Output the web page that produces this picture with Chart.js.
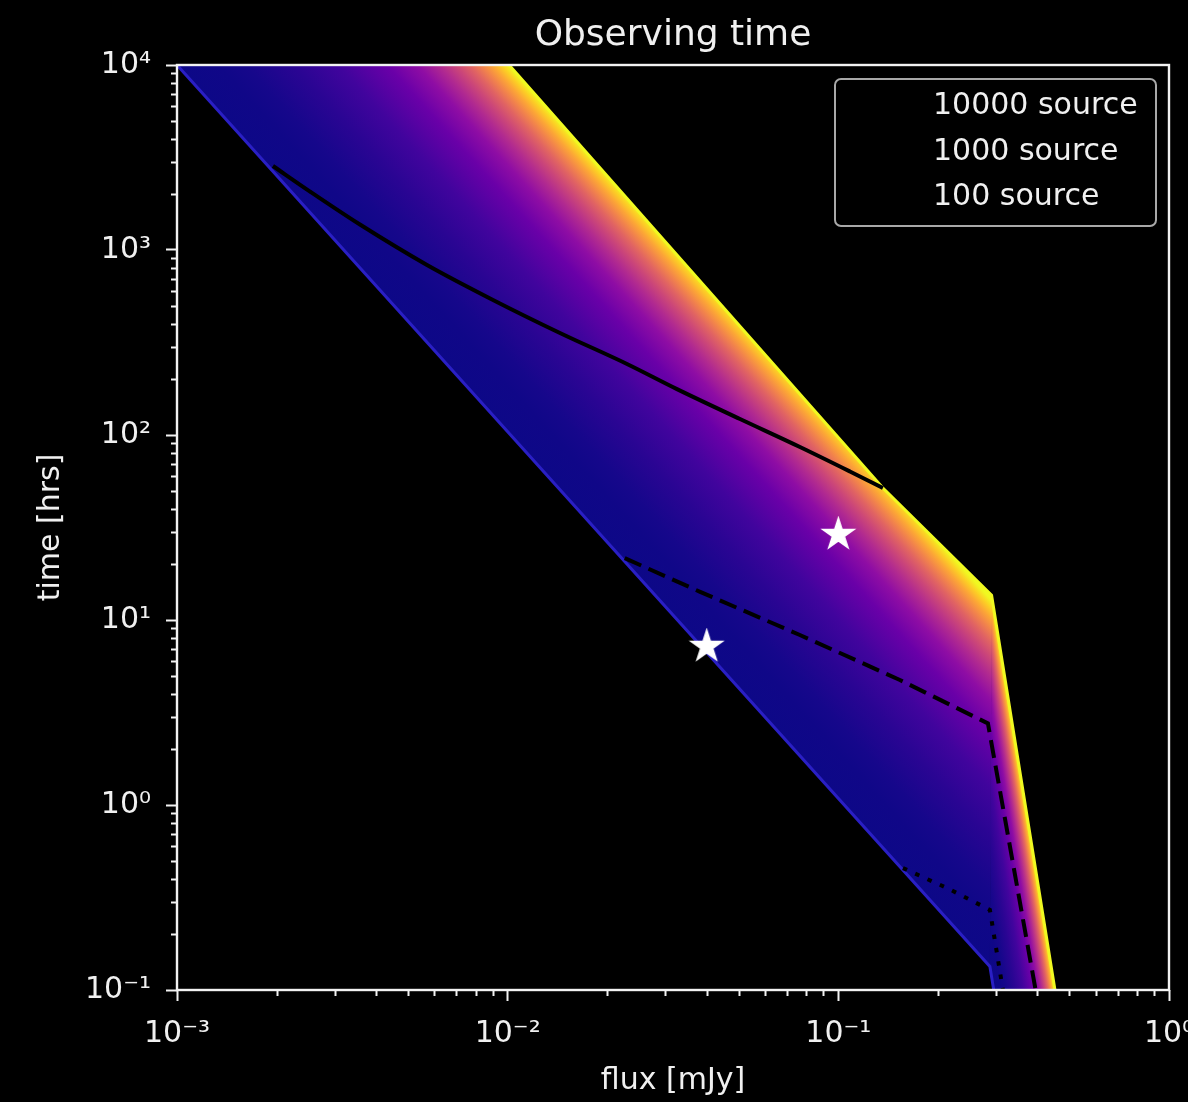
<!DOCTYPE html>
<html>

<head>
  <title>Observing time</title>
  <script src="https://cdn.jsdelivr.net/npm/chart.js@4.4.1/dist/chart.umd.min.js"></script>
  <style>
    body { margin: 0; background: #000; }
  </style>
</head>

<body>
  <canvas id="obs-chart" width="1188" height="1102"></canvas>
  <script>

    // axis decades
    var fluxTicks = [1e-3, 1e-2, 1e-1, 1e0];
    var timeTicks = [1e-1, 1e0, 1e1, 1e2, 1e3, 1e4];

    // corners of the survey fan: power-law part, then the steep cut-off
    var fanMainFlux = [0.001, 0.2873, 0.2907, 0.1364, 0.0101];
    var fanMainTime = [10000, 0.134, 13.6, 51.7, 10000];
    var fanCutFlux = [0.2873, 0.2951, 0.452, 0.2907];
    var fanCutTime = [0.134, 0.1, 0.1, 13.6];

    // source-count curves
    var src10000Flux = [0.00195, 0.002526, 0.003575, 0.005702, 0.009029, 0.01439, 0.02295, 0.03251, 0.05042, 0.07654, 0.1084, 0.1364];
    var src10000Time = [2845, 2069, 1373, 830, 537, 356, 242, 177, 122, 86.1, 63.5, 51.7];
    var src1000Flux = [0.0226, 0.0382, 0.0765, 0.1535, 0.2834, 0.395];
    var src1000Time = [21.6, 14.2, 8.3, 4.74, 2.76, 0.1];
    var src100Flux = [0.1568, 0.213, 0.2873, 0.3146];
    var src100Time = [0.456, 0.356, 0.271, 0.1];

    // highlighted targets
    var starFlux = [0.1, 0.04];
    var starTime = [29, 7.2];

    // plasma colormap, stops placed where the fan lines sit
    var plasmaStops = [
      [0.000, '#0d0887'], [0.125, '#100788'], [0.206, '#16078b'], [0.350, '#2a0593'],
      [0.486, '#41049d'], [0.633, '#6a00a8'], [0.724, '#8f0da4'], [0.789, '#b12a90'],
      [0.840, '#cc4778'], [0.882, '#e16462'], [0.917, '#f2844b'], [0.948, '#fca636'],
      [0.975, '#fcce25'], [1.000, '#f0f921']
    ];

    var textColor = '#f0f0f0';
    var fontFamily = '"DejaVu Sans", sans-serif';
    Chart.defaults.font.family = fontFamily;

    function pts(xs, ys) {
      return xs.map(function (x, i) { return { x: x, y: ys[i] }; });
    }

    // gradient across a band of parallel lines: starts on point `start`,
    // runs normal to the direction d0->d1 and ends on the line through `far`
    function bandGradient(flux, time, start, d0, d1, far) {
      return function (context) {
        var chart = context.chart;
        var xs = chart.scales.x, ys = chart.scales.y;
        if (!chart.chartArea || !xs || !ys) return plasmaStops[0][1];
        var px = function (i) { return [xs.getPixelForValue(flux[i]), ys.getPixelForValue(time[i])]; };
        var a = px(start), p0 = px(d0), p1 = px(d1), c = px(far);
        var dx = p1[0] - p0[0], dy = p1[1] - p0[1];
        var len = Math.hypot(dx, dy);
        var nx = dy / len, ny = -dx / len;
        var w = (c[0] - a[0]) * nx + (c[1] - a[1]) * ny;
        var g = chart.ctx.createLinearGradient(a[0], a[1], a[0] + nx * w, a[1] + ny * w);
        plasmaStops.forEach(function (s) { g.addColorStop(s[0], s[1]); });
        return g;
      };
    }

    var supMap = { '-': '\u207b', '0': '\u2070', '1': '\u00b9', '2': '\u00b2', '3': '\u00b3',
      '4': '\u2074', '5': '\u2075', '6': '\u2076', '7': '\u2077', '8': '\u2078', '9': '\u2079' };

    function powerLabel(v) {
      var e = String(Math.round(Math.log10(v)));
      return '10' + e.split('').map(function (ch) { return supMap[ch]; }).join('');
    }

    function starImage(r) {
      var size = Math.ceil(r * 2 + 4);
      var c = document.createElement('canvas');
      c.width = size;
      c.height = size;
      var ctx = c.getContext('2d');
      ctx.translate(size / 2, size / 2);
      ctx.beginPath();
      for (var i = 0; i < 10; i++) {
        var rad = i % 2 === 0 ? r : r * 0.382;
        var ang = -Math.PI / 2 + i * Math.PI / 5;
        ctx.lineTo(rad * Math.cos(ang), rad * Math.sin(ang));
      }
      ctx.closePath();
      ctx.fillStyle = '#ffffff';
      ctx.fill();
      ctx.strokeStyle = '#ffffff';
      ctx.lineWidth = 1.5;
      ctx.stroke();
      return c;
    }

    // minor log ticks, frame and the legend box
    var axesDecor = {
      id: 'axesDecor',
      afterDraw: function (chart) {
        var ctx = chart.ctx, area = chart.chartArea;
        var xs = chart.scales.x, ys = chart.scales.y;
        ctx.save();
        ctx.strokeStyle = '#f2f2f2';
        ctx.lineWidth = 2;
        ctx.beginPath();
        fluxTicks.slice(0, -1).forEach(function (d) {
          for (var m = 2; m < 10; m++) {
            var x = Math.round(xs.getPixelForValue(d * m)) + 0.5;
            ctx.moveTo(x, area.bottom);
            ctx.lineTo(x, area.bottom + 6);
          }
        });
        timeTicks.slice(0, -1).forEach(function (d) {
          for (var m = 2; m < 10; m++) {
            var y = Math.round(ys.getPixelForValue(d * m)) + 0.5;
            ctx.moveTo(area.left, y);
            ctx.lineTo(area.left - 6, y);
          }
        });
        ctx.stroke();

        ctx.lineWidth = 2.4;
        ctx.strokeRect(area.left, area.top, area.right - area.left, area.bottom - area.top);

        // legend
        var items = chart.data.datasets.filter(function (d) { return d.label; });
        var w = 321, h = 147;
        var bx = area.right - 13 - w, by = area.top + 14;
        ctx.beginPath();
        ctx.roundRect(bx, by, w, h, 6);
        ctx.fillStyle = 'rgba(0,0,0,0.8)';
        ctx.fill();
        ctx.strokeStyle = '#a8a8a8';
        ctx.lineWidth = 2;
        ctx.stroke();
        ctx.font = '30px ' + fontFamily;
        ctx.textBaseline = 'alphabetic';
        items.forEach(function (d, i) {
          var base = by + 35 + i * 45.5;
          ctx.strokeStyle = d.borderColor;
          ctx.lineWidth = d.borderWidth;
          ctx.setLineDash(d.borderDash || []);
          ctx.beginPath();
          ctx.moveTo(bx + 14, base - 11);
          ctx.lineTo(bx + 74, base - 11);
          ctx.stroke();
          ctx.setLineDash([]);
          ctx.fillStyle = textColor;
          ctx.fillText(d.label, bx + 98, base);
        });
        ctx.restore();
      }
    };

    var chart = new Chart(document.getElementById('obs-chart'), {
      type: 'line',
      data: {
        datasets: [
          {
            data: pts(starFlux, starTime),
            showLine: false,
            pointStyle: starImage(16.5),
            pointRadius: 16,
            order: 0
          },
          {
            label: '10000 source',
            data: pts(src10000Flux, src10000Time),
            borderColor: '#000000',
            borderWidth: 4,
            pointRadius: 0,
            cubicInterpolationMode: 'monotone',
            order: 1
          },
          {
            label: '1000 source',
            data: pts(src1000Flux, src1000Time),
            borderColor: '#000000',
            borderWidth: 4,
            borderDash: [18, 8],
            pointRadius: 0,
            order: 1
          },
          {
            label: '100 source',
            data: pts(src100Flux, src100Time),
            borderColor: '#000000',
            borderWidth: 4,
            borderDash: [4.5, 9],
            pointRadius: 0,
            order: 1
          },
          {
            // lowest curve of the fan
            data: pts([fanMainFlux[0], fanMainFlux[1], fanCutFlux[1]], [fanMainTime[0], fanMainTime[1], fanCutTime[1]]),
            borderColor: '#2a1fc4',
            borderWidth: 3,
            pointRadius: 0,
            order: 2
          },
          {
            // highest curve of the fan
            data: pts([fanMainFlux[4], fanMainFlux[3], fanMainFlux[2], fanCutFlux[2]],
              [fanMainTime[4], fanMainTime[3], fanMainTime[2], fanCutTime[2]]),
            borderColor: '#f0f921',
            borderWidth: 3,
            pointRadius: 0,
            order: 2
          },
          {
            data: pts(fanMainFlux, fanMainTime),
            fill: 'shape',
            backgroundColor: bandGradient(fanMainFlux, fanMainTime, 0, 0, 1, 4),
            borderColor: bandGradient(fanMainFlux, fanMainTime, 0, 0, 1, 4),
            borderWidth: 1,
            pointRadius: 0,
            order: 3
          },
          {
            data: pts(fanCutFlux, fanCutTime),
            fill: 'shape',
            backgroundColor: bandGradient(fanCutFlux, fanCutTime, 0, 3, 2, 3),
            borderColor: bandGradient(fanCutFlux, fanCutTime, 0, 3, 2, 3),
            borderWidth: 1,
            pointRadius: 0,
            order: 3
          }
        ]
      },
      options: {
        responsive: false,
        animation: false,
        devicePixelRatio: 1,
        layout: { padding: { top: 0, right: 19, bottom: 0, left: 0 } },
        plugins: {
          legend: { display: false },
          tooltip: { enabled: false },
          title: {
            display: true,
            text: 'Observing time',
            color: textColor,
            fullSize: false,
            font: { size: 36, weight: 'normal' },
            padding: { top: 14, bottom: 7.8 }
          }
        },
        scales: {
          x: {
            type: 'logarithmic',
            min: fluxTicks[0],
            max: fluxTicks[fluxTicks.length - 1],
            afterBuildTicks: function (s) { s.ticks = fluxTicks.map(function (v) { return { value: v }; }); },
            afterFit: function (s) { s.height = 112; s.paddingLeft = 0; s.paddingRight = 0; },
            border: { display: false },
            grid: { drawOnChartArea: false, drawTicks: true, tickLength: 11, tickColor: '#f2f2f2', tickWidth: 2 },
            ticks: {
              color: textColor,
              font: { size: 30 },
              padding: 15,
              maxRotation: 0,
              autoSkip: false,
              callback: function (v) { return powerLabel(v); }
            },
            title: {
              display: true,
              text: 'flux [mJy]',
              color: textColor,
              font: { size: 30 },
              padding: { top: 0, bottom: 3 }
            }
          },
          y: {
            type: 'logarithmic',
            min: timeTicks[0],
            max: timeTicks[timeTicks.length - 1],
            afterBuildTicks: function (s) { s.ticks = timeTicks.map(function (v) { return { value: v }; }); },
            afterFit: function (s) { s.width = 177; s.paddingTop = 0; s.paddingBottom = 0; },
            border: { display: false },
            grid: { drawOnChartArea: false, drawTicks: true, tickLength: 11, tickColor: '#f2f2f2', tickWidth: 2 },
            ticks: {
              color: textColor,
              font: { size: 30 },
              padding: 15,
              autoSkip: false,
              callback: function (v) { return powerLabel(v); }
            },
            title: {
              display: true,
              text: 'time [hrs]',
              color: textColor,
              font: { size: 30 },
              padding: { top: 33, bottom: 0 }
            }
          }
        }
      },
      plugins: [axesDecor]
    });

  </script>
</body>

</html>
